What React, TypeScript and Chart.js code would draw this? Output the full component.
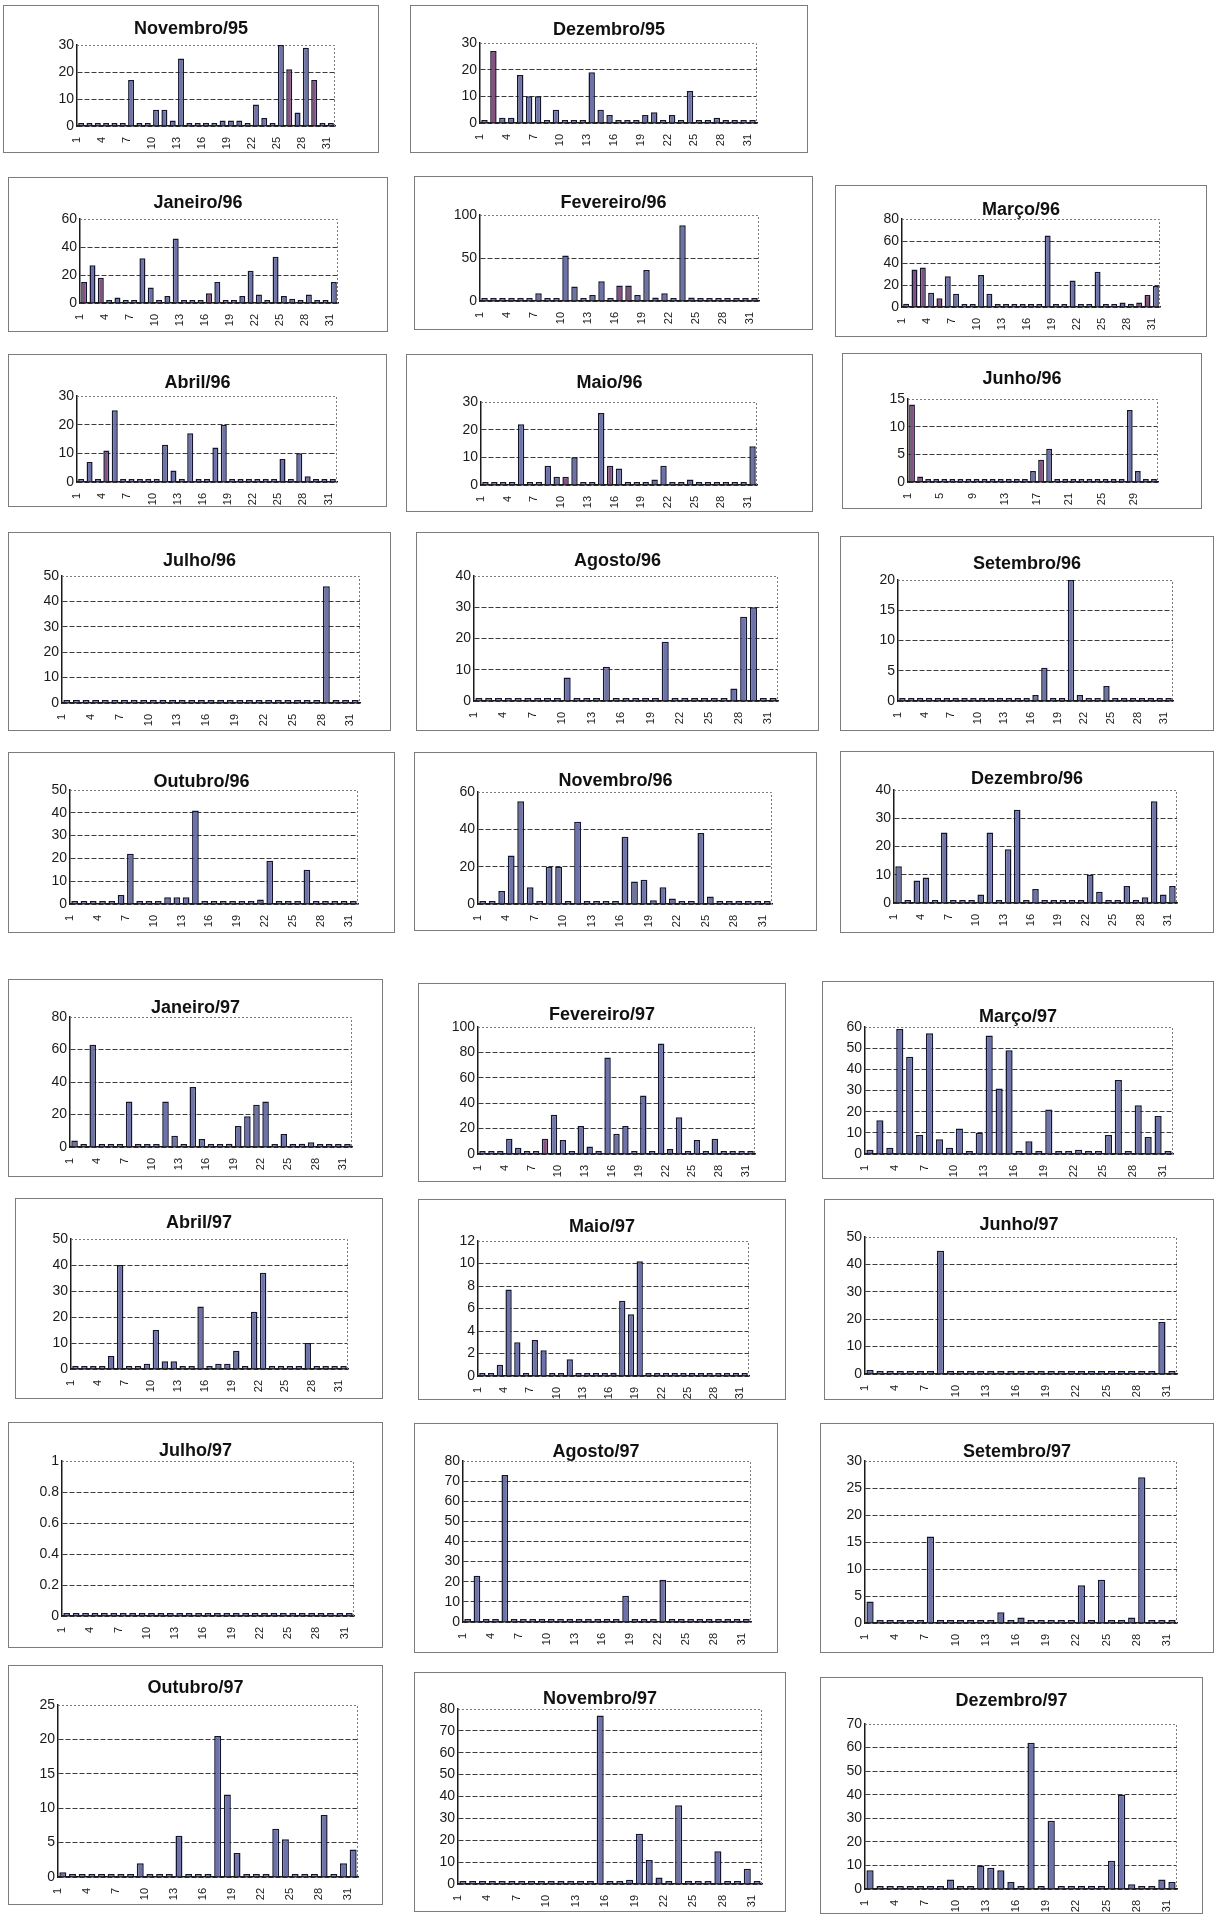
import React, { useEffect, useRef } from "react";
import { Chart, registerables } from "chart.js";
Chart.register(...registerables);

// ---------- categories ----------
const DAYS = ["1","2","3","4","5","6","7","8","9","10","11","12","13","14","15","16","17","18","19","20","21","22","23","24","25","26","27","28","29","30","31"];

// ---------- daily values (mm) ----------
const nov95 = [0,0,0,0,0,0,17,0,0,6,6,2,25,1,0,0.5,0,2,2,2,0,8,3,1,30,21,5,29,17,0.5,0];
const dez95 = [0.5,27,2,2,18,10,10,0.5,5,0.5,0.5,0,19,5,3,0,0,1,3,4,0,3,0,12,0,0.5,2,0,0,1,1];
const jan96 = [15,27,18,1,4,2,1,32,11,1,5,46,1,1,1,7,15,1,1,5,23,6,1,33,5,3,1,6,1,1,15];
const fev96 = [1,1,1,1,1,2,9,1,1,53,17,1,7,23,1,18,18,7,36,4,9,3,88,4,1,1,1,1,1,0,0];
const mar96 = [3,34,36,13,8,28,12,1,1,29,12,1,2,1,1,1,1,65,1,1,24,1,1,32,1,1,4,3,4,11,19];
const abr96 = [0.5,7,1,11,25,0.5,0.5,0.5,0.5,1,13,4,1,17,1,0.5,12,20,0.5,0.5,0.5,0.5,0.5,0.5,8,1,10,2,1,0.5,0.5];
const mai96 = [0,0,0,0,22,0,0,7,3,3,10,0,0,26,7,6,1,0,0,2,7,0,1,2,0,0,0,0,0,0,14];
const jun96 = [14,1,0,0,0,0,0,0,0,0,0,0,0,0,0,2,4,6,0,0,0,0,0,0,0,0,0,13,2,0,0];
const jul96 = [0,0,0,0,0,0,0,0,0,0,0,0,0,0,0,0,0,0,0,0,0,0,0,0,0,0,0,46,0,0,0];
const ago96 = [0,0,0,0,0,0,1,0,0.5,7.5,0,0,0,11,0,0.5,1,0,0,19,0,0.5,0,0,0,0,4,27,30,0.5,0];
const set96 = [0,0,0,0,0,0,0,0,0,0,0,0,0,0,0,1,5.5,0,0,20,1,0,0,2.5,0,0,0,0,0,0,0];
const out96 = [0,0,0,0,0,4,22,0,0,0,3,3,3,41,0,0,0,0,0,0.5,2,19,1,0,0,15,0,0,0,0,0];
const nov96 = [0,0,7,26,55,9,0,20,20,0,44,0,0,0,0,36,12,13,2,9,3,0,0,38,4,0,0,1,0,1,0];
const dez96 = [13,0,8,9,0,25,0,0,0,3,25,0,19,33,0,5,0,0,0,0,0,10,4,0,1,6,0,2,36,3,6];
const jan97 = [4,1,63,1,0,0,28,0,0,1,28,7,0,37,5,0,0,2,13,19,26,28,1,8,1,2,3,1,0,0,0];
const fev97 = [0,0,1,12,5,1,1,12,31,11,1,22,6,1,76,16,22,1,46,1,87,4,29,1,11,1,12,0,0,0,0];
const mar97 = [2,16,3,59,46,9,57,7,3,12,1,10,56,31,49,1,6,1,21,0,0,2,0,0,9,35,1,23,8,18,1];
const abr97 = [0,0,0,0,5,40,0,1,2,15,3,3,1,0,24,0,2,2,7,0,22,37,1,1,0,0,10,0,0,0,0];
const mai97 = [0.1,0.1,1,7.7,3,0.1,3.2,2.3,0.1,0.1,1.5,0.1,0,0,0.1,0.3,6.7,5.5,10.2,0,0,0,0,0,0,0,0,0,0,0,0];
const jun97 = [1.5,0,0,0,0,0,0,45,0,0,0,0,0,0,0,0,0,0,0,0,0,0,0,0,0,0,0,0,0,19,0];
const jul97 = [0,0,0,0,0,0,0,0,0,0,0,0,0,0,0,0,0,0,0,0,0,0,0,0,0,0,0,0,0,0,0];
const ago97 = [0,23,0,0,73,0,0,0,0,0,0,0,0,0,0,0,0,13,1,1,0,21,0,0,0,0,0,0,1,0,0];
const set97 = [4,0,0,0,0,0,16,0,0,0,0,0,0,2,0,1,0,0,0,0,0,7,0,8,0,0,1,27,0,0,0];
const out97 = [0.7,0,0,0,0,0,0,0,2,0,0,0,6,0,0,0.3,20.5,12,3.5,0,0,0,7,5.5,0,0,0,9,0,2,4];
const nov97 = [0.5,0.5,0.5,1,0.5,0.5,0.5,0.5,0.5,0.5,0.5,0.5,1,1,77,0.5,0.5,2,23,11,3,0.5,36,1,1,0.5,15,1,0.5,7,0];
const dez97 = [8,1,0,0,1,0,0,0,4,1,0,10,9,8,3,1,62,1,29,0,0,0,1,0,12,40,2,0,0,4,3];

// ---------- titles and y axis ranges ----------
const TITLES = ["Novembro/95","Dezembro/95","Janeiro/96","Fevereiro/96","Março/96","Abril/96","Maio/96","Junho/96","Julho/96","Agosto/96","Setembro/96","Outubro/96","Novembro/96","Dezembro/96","Janeiro/97","Fevereiro/97","Março/97","Abril/97","Maio/97","Junho/97","Julho/97","Agosto/97","Setembro/97","Outubro/97","Novembro/97","Dezembro/97"];
const SERIES = [nov95,dez95,jan96,fev96,mar96,abr96,mai96,jun96,jul96,ago96,set96,out96,nov96,dez96,jan97,fev97,mar97,abr97,mai97,jun97,jul97,ago97,set97,out97,nov97,dez97];
const Y_MAX = [30,30,60,100,80,30,30,15,50,40,20,50,60,40,80,100,60,50,12,50,1,80,30,25,80,70];
const Y_STEP = [10,10,20,50,20,10,10,5,10,10,5,10,20,10,20,20,10,10,2,10,0.2,10,5,5,10,10];
const LABEL_EVERY = [3,3,3,3,3,3,3,4,3,3,3,3,3,3,3,3,3,3,3,3,3,3,3,3,3,3];

// ---------- styling: days drawn in the second (purple) tone ----------
const PURPLE_DAYS = [[26,29],[2],[1,3,16],[16,17],[2,3,5,29,30],[4],[10,15],[1,2,17],[],[],[],[],[],[],[],[8],[],[],[],[],[],[],[],[],[],[]];

// ---------- layout (page pixels): frame box, plot area, title centre ----------
const BOX = [
  [3,5,376,148],[410,5,398,148],
  [8,177,380,155],[414,176,399,154],[835,185,372,152],
  [8,354,379,153],[406,354,407,158],[842,353,360,156],
  [8,532,383,199],[416,532,403,199],[840,536,374,195],
  [8,752,387,181],[414,752,403,179],[840,751,374,182],
  [8,979,375,198],[418,983,368,199],[822,981,392,198],
  [15,1198,368,201],[418,1199,368,201],[824,1199,390,201],
  [8,1422,375,226],[414,1423,364,230],[820,1423,394,230],
  [8,1665,375,240],[414,1672,372,240],[820,1677,383,237],
];
const PLOT = [
  [77,45,335,126],[480,43,757,123],
  [80,219,338,303],[480,215,759,301],[902,219,1160,307],
  [77,396,337,482],[481,402,757,485],[908,399,1158,482],
  [62,576,360,703],[474,576,778,701],[898,580,1173,701],
  [70,790,358,904],[478,792,772,904],[894,790,1177,903],
  [70,1017,352,1147],[478,1027,755,1154],[865,1027,1173,1154],
  [71,1239,348,1369],[478,1241,749,1376],[865,1237,1177,1374],
  [62,1461,354,1616],[463,1461,751,1622],[865,1461,1177,1623],
  [58,1705,358,1877],[458,1709,762,1884],[865,1724,1177,1889],
];
const TITLE_Y = [28,29,202,202,209,382,382,378,560,560,563,781,780,778,1007,1014,1016,1222,1226,1224,1450,1451,1451,1687,1698,1700];

const Y_W = 36;
const X_H = 24;
const FONT = '"Liberation Sans", Arial, sans-serif';
const FILL = "#6d72a8";
const FILL2 = "#85517f";
const EDGE = "#14162e";

const framePlugin = {
  id: "plotFrame",
  beforeDatasetsDraw(chart: any) {
    const { ctx, chartArea: a } = chart;
    ctx.save();
    ctx.strokeStyle = "#7a7a7a";
    ctx.lineWidth = 1;
    ctx.setLineDash([2, 2]);
    ctx.beginPath();
    ctx.moveTo(a.left, Math.round(a.top) + 0.5);
    ctx.lineTo(Math.round(a.right) - 0.5, Math.round(a.top) + 0.5);
    ctx.lineTo(Math.round(a.right) - 0.5, a.bottom);
    ctx.stroke();
    ctx.restore();
  },
};

function MiniChart({ i }: { i: number }) {
  const ref = useRef<HTMLCanvasElement | null>(null);
  const [bx, by, bw, bh] = BOX[i];
  const [pl, pt, pr, pb] = PLOT[i];
  const cw = bw;
  const ch = Math.max(bh, pb - by + X_H + 4);

  useEffect(() => {
    if (!ref.current) return;
    const data = SERIES[i];
    const perDay = (pr - pl) / data.length;
    const purple = PURPLE_DAYS[i];
    const colors = data.map((_, k) => (purple.indexOf(k + 1) >= 0 ? FILL2 : FILL));
    const every = LABEL_EVERY[i];
    const max = Y_MAX[i];
    const chart = new Chart(ref.current, {
      type: "bar",
      data: {
        labels: DAYS,
        datasets: [
          {
            data,
            backgroundColor: colors,
            borderColor: EDGE,
            borderWidth: 1.5,
            barPercentage: 0.72,
            categoryPercentage: 1,
            minBarLength: 3,
          },
        ],
      },
      options: {
        animation: false,
        responsive: false,
        devicePixelRatio: 1,
        layout: {
          padding: {
            left: pl - bx - Y_W,
            top: pt - by,
            right: bx + cw - pr,
            bottom: by + ch - pb - X_H,
          },
        },
        plugins: {
          legend: { display: false },
          tooltip: { enabled: false },
          title: { display: false },
        },
        scales: {
          x: {
            type: "category",
            offset: true,
            grid: { display: false },
            border: { display: true, color: "#1a1a1a", width: 1.5 },
            ticks: {
              autoSkip: false,
              minRotation: 90,
              maxRotation: 90,
              labelOffset: -perDay / 2,
              padding: 3,
              color: "#1a1a1a",
              font: { family: FONT, size: 11 },
              callback: (_v: any, idx: number) => (idx % every === 0 ? DAYS[idx] : ""),
            },
            afterFit: (s: any) => {
              s.height = X_H;
            },
          },
          y: {
            min: 0,
            max,
            ticks: {
              stepSize: Y_STEP[i],
              padding: 3,
              color: "#1a1a1a",
              font: { family: FONT, size: 14 },
              callback: (v: any) => String(Math.round(Number(v) * 100) / 100),
            },
            grid: {
              drawTicks: false,
              lineWidth: 1,
              color: (c: any) => (c.tick && Math.abs(c.tick.value - max) < 1e-9 ? "rgba(0,0,0,0)" : "#3c3c3c"),
            },
            border: { display: true, color: "#1a1a1a", width: 1.5, dash: [5, 2] },
            afterFit: (s: any) => {
              s.width = Y_W;
            },
          },
        },
      },
      plugins: [framePlugin],
    } as any);
    return () => chart.destroy();
  }, [i]);

  return (
    <canvas
      ref={ref}
      width={cw}
      height={ch}
      style={{ position: "absolute", left: bx, top: by, width: cw, height: ch }}
    />
  );
}

export default function App() {
  return (
    <div style={{ position: "absolute", left: 0, top: 0, width: 1214, height: 1914, background: "#fff", overflow: "hidden" }}>
      {BOX.map((b, i) => (
        <div
          key={"f" + i}
          style={{
            position: "absolute",
            left: b[0],
            top: b[1],
            width: b[2],
            height: b[3],
            border: "1px solid #7c7c7c",
            boxSizing: "border-box",
          }}
        />
      ))}
      {BOX.map((_, i) => (
        <MiniChart key={"c" + i} i={i} />
      ))}
      {BOX.map((b, i) => (
        <div
          key={"t" + i}
          style={{
            position: "absolute",
            left: b[0],
            width: b[2],
            top: TITLE_Y[i] - 11,
            height: 22,
            lineHeight: "22px",
            textAlign: "center",
            fontFamily: FONT,
            fontWeight: "bold",
            fontSize: 18,
            color: "#111",
          }}
        >
          {TITLES[i]}
        </div>
      ))}
    </div>
  );
}
